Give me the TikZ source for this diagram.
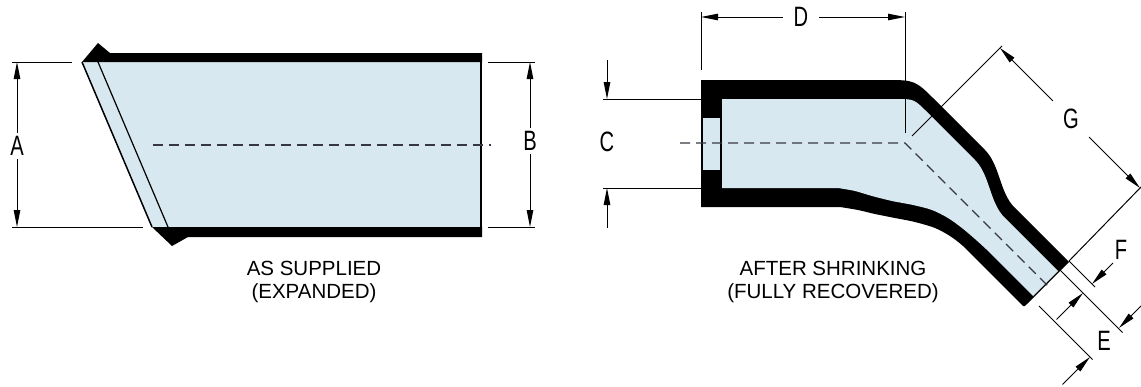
\documentclass[tikz,border=0pt]{standalone}
\usepackage{fontspec}
\setmainfont{Liberation Sans}
\newfontfamily\dimfont[FakeStretch=0.72]{Liberation Sans}
\usetikzlibrary{arrows.meta}
\definecolor{tubeblue}{RGB}{216,232,241}
\definecolor{axisgrey}{RGB}{55,55,65}

\begin{document}
\begin{tikzpicture}[x=1pt, y=-1pt,
    dimline/.style={line width=1pt, -{Triangle[length=17pt,width=6.5pt]}},
    extline/.style={line width=1pt},
    dimlabel/.style={font=\dimfont\fontsize{28}{28}\selectfont, inner sep=3pt},
    axisline/.style={axisgrey, line width=1.2pt, dash pattern=on 10pt off 6pt},
    caption/.style={font=\fontsize{20.5}{24}\selectfont, anchor=base, inner sep=0pt}]
\useasboundingbox (0,0) rectangle (1141,386);
%
% as supplied
\fill[tubeblue] (82,62) -- (482,62) -- (482,227) -- (152,227) -- cycle;
\fill (82,62) -- (98,43) -- (110,53) -- (482,53) -- (482,62) -- cycle;
\fill (152,227) -- (482,227) -- (482,237) -- (188,237) -- (172,246) -- cycle;
\draw[line width=1.5pt] (82,62) -- (152,227);
\draw[line width=1.2pt] (98,62) -- (168,227);
\draw[line width=2pt] (481,53) -- (481,237);
\draw[axisline] (153,145) -- (491,145);

\draw[extline] (12,62) -- (72,62);
\draw[extline] (12,227) -- (143,227);
\draw[extline] (488,62) -- (535,62);
\draw[extline] (488,227) -- (535,227);

\coordinate (Atop) at (17,62);
\coordinate (Abot) at (17,227);
\coordinate (Btop) at (530,62);
\coordinate (Bbot) at (530,227);
\node[dimlabel] (A) at (17,146) {A};
\node[dimlabel] (B) at (530,141) {B};
\draw[dimline] (A) -- (Atop);
\draw[dimline] (A) -- (Abot);
\draw[dimline] (B) -- (Btop);
\draw[dimline] (B) -- (Bbot);

\node[caption] (sup1) at (314,275) {AS SUPPLIED};
\node[caption] (sup2) at (314,298) {(EXPANDED)};
%
% after shrinking
\fill (701,80) -- (885,80) .. controls (915,80) .. (936,101) -- (985,150)
  .. controls (1000,165) and (999.5,192.5) .. (1014.5,207.5) -- (1069,262)
  -- (1027,304) .. controls (1024,307) .. (1021,304) -- (976,259)
  -- plot[smooth] coordinates {(976,259) (963,246) (950,236) (935,228) (915,222)
     (895,218) (875,214) (858,210) (840,207)}
  -- (701,207) -- cycle;
\fill[tubeblue] (722,99) -- (896,99) .. controls (914,99) .. (927,112) -- (975,160)
  .. controls (990,175) and (989.5,202.5) .. (1004.5,217.5) -- (1058,271)
  -- (1033,296) -- (986,249)
  -- plot[smooth] coordinates {(986,249) (975,239) (962,228) (948,218) (932,210)
     (913,205) (892,201) (872,196) (855,191) (838,188)}
  -- (722,188) -- cycle;
\fill[tubeblue] (703,118) rectangle (720,170);
\draw[axisline] (680,143) -- (905,143) -- (1049,287);

\draw[extline] (603,99) -- (701,99);
\draw[extline] (603,188) -- (701,188);
\draw[extline] (701,12) -- (701,70);
\draw[extline] (905,12) -- (905,133);
\draw[extline] (912,136) -- (1002,46);
\draw[extline] (1069,261) -- (1142,186);
\draw[extline] (1069,261) -- (1095,287);
\draw[extline] (1060,270) -- (1122.5,332.5);
\draw[extline] (1039,306) -- (1092.5,359.5);

\coordinate (Ctop) at (607,99);
\coordinate (Ctail1) at (607,60);
\coordinate (Cbot) at (607,188);
\coordinate (Ctail2) at (607,228);
\node[dimlabel] (C) at (607,142) {C};
\draw[dimline] (Ctail1) -- (Ctop);
\draw[dimline] (Ctail2) -- (Cbot);

\coordinate (Dl) at (701,17);
\coordinate (Dr) at (905,17);
\node[dimlabel, inner xsep=11pt] (D) at (801,17) {D};
\draw[dimline] (D) -- (Dl);
\draw[dimline] (D) -- (Dr);

\coordinate (Gtop) at (1000,48);
\coordinate (Gbot) at (1140,188);
\node[dimlabel, inner sep=10pt] (G) at (1071,119) {G};
\draw[dimline] (G) -- (Gtop);
\draw[dimline] (G) -- (Gbot);

\coordinate (Fa) at (1113,263);
\coordinate (Fatip) at (1092,284);
\coordinate (Fb) at (1056.5,319.5);
\coordinate (Fbtip) at (1083,293);
\node[dimlabel] (F) at (1121,250) {F};
\draw[dimline] (Fa) -- (Fatip);
\draw[dimline] (Fb) -- (Fbtip);

\coordinate (Ea) at (1062.5,384.5);
\coordinate (Eatip) at (1090,357);
\coordinate (Eb) at (1143.5,303.5);
\coordinate (Ebtip) at (1119,328);
\node[dimlabel] (E) at (1104,341) {E};
\draw[dimline] (Ea) -- (Eatip);
\draw[dimline] (Eb) -- (Ebtip);

\node[caption] (shr1) at (833,275) {AFTER SHRINKING};
\node[caption] (shr2) at (833,298) {(FULLY RECOVERED)};
%
\end{tikzpicture}
\end{document}
